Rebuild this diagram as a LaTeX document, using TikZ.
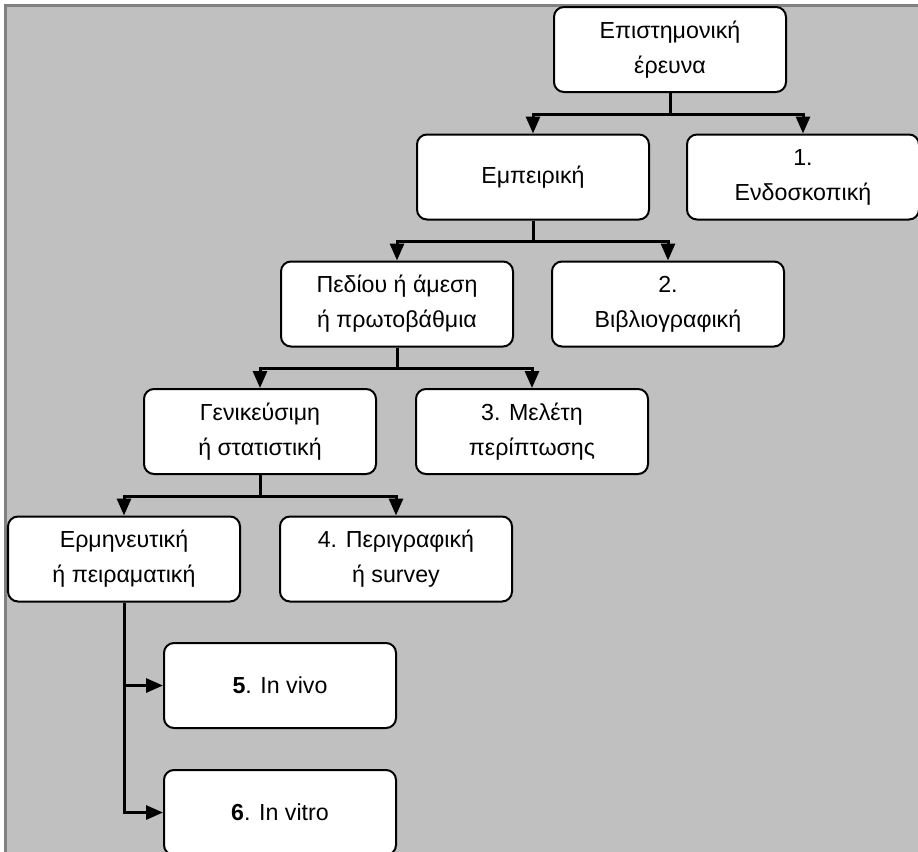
\documentclass[tikz,border=0pt]{standalone}
\usepackage{fontspec}
\setmainfont{Liberation Sans}
\usetikzlibrary{arrows.meta}
\definecolor{bggray}{HTML}{C0C0C0}
\definecolor{framegray}{HTML}{808080}
\begin{document}
\begin{tikzpicture}[x=0.5pt,y=-0.5pt,
  box/.style={draw=black,line width=1pt,fill=white,rounded corners=5pt,
    minimum width=116pt,minimum height=42.5pt,inner sep=0pt,align=center,
    font=\fontsize{11.6}{17.5}\selectfont},
  conn/.style={line width=1.5pt,-{Triangle[length=8.5pt,width=7pt]}}]
\useasboundingbox (0,0) rectangle (918,852);
\fill[white] (0,0) rectangle (918,852);
\fill[bggray] (5.5,5.5) rectangle (930,870);
\draw[framegray,line width=1.5pt] (5.5,870) -- (5.5,5.5) -- (930,5.5);
\begin{scope}
\clip (0,0) rectangle (918,852);
\node[box] (root)  at (670,49.5) {Επιστημονική\\έρευνα};
\node[box] (emp)   at (533,177)  {Εμπειρική};
\node[box] (endo)  at (803,177)  {1.\\Ενδοσκοπική};
\node[box] (ped)   at (397,304)  {Πεδίου ή άμεση\\ή πρωτοβάθμια};
\node[box] (bib)   at (668,304)  {2.\\Βιβλιογραφική};
\node[box] (gen)   at (260,431.5) {Γενικεύσιμη\\ή στατιστική};
\node[box] (mel)   at (532,431.5) {3. Μελέτη\\περίπτωσης};
\node[box] (erm)   at (124,559)  {Ερμηνευτική\\ή πειραματική};
\node[box] (per)   at (396,559)  {4. Περιγραφική\\ή survey};
\node[box] (vivo)  at (280,685.5) {\textbf{5}. In vivo};
\node[box] (vitro) at (280,812.5) {\textbf{6}. In vitro};

\draw[conn] (root.south) -- ++(0,21) -| (emp.north);
\draw[conn] (root.south) -- ++(0,21) -| (endo.north);
\draw[conn] (emp.south) -- ++(0,21) -| (ped.north);
\draw[conn] (emp.south) -- ++(0,21) -| (bib.north);
\draw[conn] (ped.south) -- ++(0,21) -| (gen.north);
\draw[conn] (ped.south) -- ++(0,21) -| (mel.north);
\draw[conn] (gen.south) -- ++(0,21) -| (erm.north);
\draw[conn] (gen.south) -- ++(0,21) -| (per.north);
\draw[conn] (erm.south) |- (vivo.west);
\draw[conn] (erm.south) |- (vitro.west);
\end{scope}
\end{tikzpicture}
\end{document}
